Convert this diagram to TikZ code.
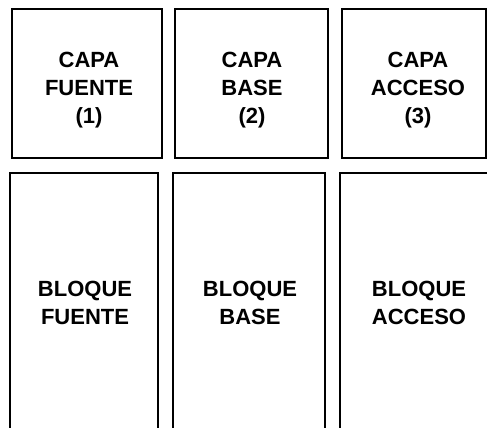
\documentclass[tikz,border=0pt]{standalone}
\usepackage{fontspec}
\setmainfont{Liberation Sans}
\usetikzlibrary{positioning}
\tikzset{
	capabox/.style={
		draw=black,
		line width=1.8pt,
		minimum width=#1,
		minimum height=149pt,
		inner sep=0pt
	},
	bloqbox/.style={
		draw=black,
		line width=1.8pt,
		minimum width=#1,
		minimum height=268pt,
		inner sep=0pt
	},
	lbl/.style={
		align=center,
		inner sep=0pt,
		font=\fontsize{22}{28}\selectfont\bfseries
	}
}

\begin{document}
\begin{tikzpicture}[x=1pt, y=-1pt]
		\useasboundingbox (0,0) rectangle (487,428);
		% capas
		\node[capabox=150pt] (fuente) at (87,83.5) {};
		\node[capabox=153pt] (base) at (251.5,83.5) {};
		\node[capabox=144pt] (acceso) at (414,83.5) {};
		\node[lbl] (tfuente) at (89,90) {CAPA\\FUENTE\\(1)};
		\node[lbl] (tbase) at (252,90) {CAPA\\BASE\\(2)};
		\node[lbl] (tacceso) at (418,90) {CAPA\\ACCESO\\(3)};
		% bloques
		\node[bloqbox=148pt] (bfuente) at (84,307) {};
		\node[bloqbox=152pt] (bbase) at (249,307) {};
		\node[bloqbox=160pt] (bacceso) at (420,307) {};
		\node[lbl] (tbfuente) at (85,303) {BLOQUE\\FUENTE};
		\node[lbl] (tbbase) at (250,303) {BLOQUE\\BASE};
		\node[lbl] (tbacceso) at (419,303) {BLOQUE\\ACCESO};
	\end{tikzpicture}
\end{document}
